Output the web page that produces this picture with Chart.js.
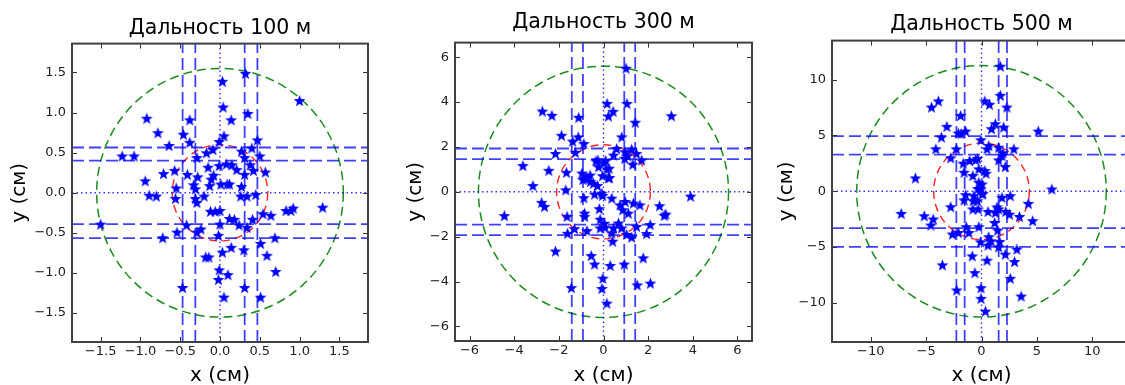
<!DOCTYPE html>
<html>
<head>
<meta charset="utf-8">
<script src="https://cdn.jsdelivr.net/npm/chart.js@4.4.0/dist/chart.umd.min.js"></script>
<style>
  html, body { margin: 0; padding: 0; background: #fff; }
  body { width: 1125px; height: 385px; overflow: hidden; position: relative; }
  canvas { position: absolute; top: 0; }
</style>
</head>
<body>
<canvas id="c100" style="left:0px"></canvas>
<canvas id="c300" style="left:395px"></canvas>
<canvas id="c500" style="left:775px"></canvas>
<script>
// Попадания (см) для каждой дальности
const x100 = [-1.50,-1.23,-1.08,-0.92,-0.78,-0.64,-0.94,-0.89,-0.80,-0.71,-0.57,-0.55,-0.56,-0.46,-0.38,-0.38,-0.41,-0.33,-0.31,-0.31,
  -0.29,-0.28,-0.29,-0.20,-0.17,-0.09,-0.15,-0.08,-0.11,-0.13,-0.01,-0.01,0.05,0.04,0.03,0.32,0.35,0.14,1.00,0.47,
  0.40,0.27,0.31,0.50,0.38,0.42,0.57,0.08,0.15,0.21,0.31,0.01,0.09,0.12,0.27,0.26,0.34,0.45,-0.12,-0.06,
  0.00,0.12,0.18,0.24,0.34,0.41,0.54,0.64,0.83,0.89,0.92,1.29,0.00,-0.02,-0.24,-0.29,-0.42,-0.54,-0.72,0.03,
  0.14,0.30,0.51,0.69,0.59,-0.18,-0.14,0.70,-0.01,-0.02,0.10,-0.47,0.31,0.05,0.51];
const y100 = [-0.39,0.46,0.46,0.93,0.75,0.59,0.15,-0.03,-0.04,0.24,0.28,0.06,-0.07,0.73,0.91,0.63,0.23,0.10,0.05,-0.07,
  -0.12,0.20,0.44,-0.04,0.50,0.54,0.32,0.22,0.17,0.09,0.34,0.64,0.71,1.07,1.39,1.49,0.99,0.91,1.15,0.66,
  0.56,0.52,0.44,0.46,0.35,0.28,0.26,0.36,0.35,0.29,0.23,0.11,0.11,0.11,0.08,-0.04,-0.04,-0.02,-0.23,-0.23,
  -0.22,-0.32,-0.33,-0.40,-0.43,-0.33,-0.26,-0.28,-0.22,-0.22,-0.19,-0.18,-0.39,-0.53,-0.45,-0.49,-0.40,-0.49,-0.56,-0.74,
  -0.68,-0.71,-0.63,-0.56,-0.78,-0.80,-0.80,-0.98,-0.96,-1.08,-1.02,-1.18,-1.18,-1.30,-1.30];

const x300 = [1.01,0.16,1.05,0.43,0.22,1.42,3.04,-2.74,-2.31,-1.11,-1.88,-1.13,-1.38,-0.88,0.82,-2.15,-1.26,-3.61,-2.45,-1.66,
  -3.16,-1.69,-2.77,-2.64,-4.44,3.90,2.51,2.72,2.79,2.09,1.93,1.78,2.10,1.51,0.93,0.30,-0.40,-0.55,0.41,-0.03,
  -0.07,0.15,-1.44,-2.15,-1.61,-1.63,-1.30,-0.74,-0.85,-0.85,-0.88,-0.96,-0.92,-0.76,-0.58,-0.34,-0.22,0.01,0.15,0.27,
  -0.45,-0.27,-0.04,-0.40,-0.07,-0.04,0.37,-0.19,-0.15,0.04,-0.15,0.07,0.37,0.45,0.67,0.81,1.04,1.26,1.48,0.74,
  0.97,0.86,1.11,1.34,1.63,0.45,0.59,0.95,1.08,1.26,1.48,1.71,1.31,0.96,0.25,-0.85,-0.25,0.22,-0.60,0.10];
const y300 = [5.51,3.94,3.94,3.59,3.38,3.10,3.39,3.60,3.41,3.32,2.52,2.45,2.26,2.15,2.45,1.71,1.76,1.17,0.96,0.87,
  0.28,0.09,-0.47,-0.65,-1.06,-0.19,-0.62,-1.05,-0.99,-1.46,-1.86,-2.94,-4.07,-4.15,-3.22,-3.28,-3.22,-2.84,-2.20,-3.85,
  -4.31,-4.96,-4.27,-2.64,-1.85,-1.09,-1.64,-1.73,-0.95,-1.09,-0.26,0.84,0.55,0.65,0.46,1.38,1.12,1.30,1.02,0.63,
  0.38,0.28,0.72,-0.10,-0.06,-0.16,-0.28,-0.75,-1.22,-1.40,-1.61,-1.58,-1.83,-1.61,-1.39,-1.61,-1.90,-2.02,-1.54,-0.58,
  -0.43,-0.80,-0.95,-0.50,-0.58,1.64,1.93,1.49,1.61,1.90,1.71,1.42,1.23,1.79,1.05,0.60,1.42,0.63,0.75,1.40];

const x500 = [1.70,1.70,0.30,0.72,2.29,-3.89,-4.51,-1.88,-3.13,-3.62,-2.09,-1.43,-1.85,1.25,0.90,2.00,5.13,-0.06,-4.12,-2.27,
  -2.78,-5.97,0.50,0.66,1.55,2.92,1.85,1.55,2.15,1.94,-1.65,-1.07,-0.54,-0.36,-1.58,-0.78,-0.24,0.30,0.41,-0.24,
  -0.09,-0.33,0.05,0.12,-1.43,-0.69,1.85,2.60,-1.58,-0.75,0.06,-0.30,-0.78,-2.78,0.59,1.25,1.55,2.20,2.53,3.43,
  4.23,4.62,-7.25,-5.17,-4.36,-4.57,-2.63,-2.09,-1.38,-1.14,-0.24,1.19,1.46,-0.09,0.65,0.59,0.86,1.64,1.55,2.15,
  3.19,2.98,2.60,3.58,-0.84,0.50,-0.60,-3.53,-2.24,-0.04,-0.04,0.36,6.35,-0.36,1.40];
const y500 = [11.21,8.60,8.10,7.80,7.55,8.10,7.55,6.80,5.82,4.86,5.22,5.40,5.18,6.06,5.61,5.76,5.40,4.62,3.81,3.81,
  3.00,1.20,3.81,4.10,3.95,3.81,3.21,2.82,2.22,3.45,2.52,2.76,2.82,2.95,1.71,1.41,2.01,1.86,1.62,0.81,
  0.22,0.25,0.66,-0.18,-0.30,-0.39,-0.54,-0.39,-0.77,-0.84,-0.24,-1.58,-1.58,-1.38,-1.80,-1.89,-1.58,-1.80,-2.04,-2.25,
  -1.08,-2.63,-1.98,-2.19,-2.48,-3.02,-3.83,-3.69,-3.17,-3.69,-3.17,-2.79,-3.47,-4.52,-4.07,-4.82,-4.43,-4.50,-4.97,-5.63,
  -5.18,-6.29,-7.79,-9.38,-5.78,-6.17,-7.28,-6.59,-8.84,-8.63,-9.59,-10.73,0.21,-0.84,-1.40];

// Пределы осей и деления
const lim100 = 1.86, lim300 = 6.65, lim500 = 13.5;
const ticks100 = [-1.5, -1.0, -0.5, 0.0, 0.5, 1.0, 1.5];
const ticks300 = [-6, -4, -2, 0, 2, 4, 6];
const ticks500 = [-10, -5, 0, 5, 10];

// Окружности (радиусы) и линии рассеивания
const outerR = [1.55, 5.6, 11.27];
const innerR = [0.6, 2.1, 4.32];
const vLines100 = [-0.47, -0.31, 0.31, 0.47];
const hLines100 = [-0.565, -0.39, 0.40, 0.565];
const vLines300 = [-1.42, -0.92, 0.93, 1.42];
const hLines300 = [-1.93, -1.46, 1.46, 1.93];
const vLines500 = [-2.27, -1.52, 1.55, 2.30];
const hLines500 = [-4.97, -3.29, 3.29, 4.94];

const FONT = 'DejaVu Sans';

// звёздочка как у matplotlib
function makeStar(size, color) {
  const c = document.createElement('canvas');
  c.width = c.height = size;
  const g = c.getContext('2d');
  const R = size / 2 - 0.3, r = R * 0.42;
  g.beginPath();
  for (let i = 0; i < 10; i++) {
    const a = -Math.PI / 2 + i * Math.PI / 5;
    const rad = i % 2 ? r : R;
    g.lineTo(size / 2 + rad * Math.cos(a), size / 2 + 0.7 + rad * Math.sin(a));
  }
  g.closePath();
  g.fillStyle = color;
  g.fill();
  return c;
}
const star = makeStar(13, '#0000ff');

function minusFmt(v, dec) {
  const s = Math.abs(v).toFixed(dec);
  return v < 0 ? '\u2212' + s : s;
}

// рамка, внутренние засечки и окружности
const framePlugin = {
  id: 'frame',
  beforeDatasetsDraw(chart, args, opts) {
    const {ctx, chartArea: a, scales: {x, y}} = chart;
    ctx.save();
    ctx.beginPath();
    ctx.rect(a.left, a.top, a.right - a.left, a.bottom - a.top);
    ctx.clip();
    opts.circles.forEach(c => {
      const cx = x.getPixelForValue(0), cy = y.getPixelForValue(0);
      const rx = Math.abs(x.getPixelForValue(c.r) - cx);
      const ry = Math.abs(y.getPixelForValue(c.r) - cy);
      ctx.beginPath();
      ctx.setLineDash(c.dash);
      ctx.strokeStyle = c.color;
      ctx.lineWidth = c.width;
      ctx.ellipse(cx, cy, rx, ry, 0, 0, 2 * Math.PI);
      ctx.stroke();
    });
    ctx.restore();
  },
  afterDraw(chart) {
    const {ctx, chartArea: a, scales: {x, y}} = chart;
    ctx.save();
    ctx.strokeStyle = '#333';
    ctx.lineWidth = 1;
    ctx.beginPath();
    x.ticks.forEach(t => {
      const px = Math.round(x.getPixelForValue(t.value)) + 0.5;
      ctx.moveTo(px, a.bottom); ctx.lineTo(px, a.bottom - 5);
      ctx.moveTo(px, a.top); ctx.lineTo(px, a.top + 5);
    });
    y.ticks.forEach(t => {
      const py = Math.round(y.getPixelForValue(t.value)) + 0.5;
      ctx.moveTo(a.left, py); ctx.lineTo(a.left + 5, py);
      ctx.moveTo(a.right, py); ctx.lineTo(a.right - 5, py);
    });
    ctx.stroke();
    ctx.lineWidth = 2;
    ctx.strokeStyle = '#404040';
    ctx.strokeRect(a.left, a.top, a.right - a.left, a.bottom - a.top);
    ctx.restore();
  }
};

function lineSet(points, color, dash, width) {
  return {
    data: points, showLine: true, pointRadius: 0, borderColor: color,
    borderDash: dash, borderWidth: width, fill: false
  };
}

function makeChart(id, p) {
  const canvas = document.getElementById(id);
  canvas.width = p.width;
  canvas.height = 390;
  const lim = p.lim;
  const sets = [{
    data: p.xs.map((v, i) => ({x: v, y: p.ys[i]})),
    pointStyle: star, pointRadius: 7, backgroundColor: '#0000ff', borderColor: '#0000ff'
  }];
  p.vLines.forEach(v => sets.push(lineSet([{x: v, y: -lim}, {x: v, y: lim}], 'rgba(0,0,255,0.75)', [12, 5], 1.8)));
  p.hLines.forEach(v => sets.push(lineSet([{x: -lim, y: v}, {x: lim, y: v}], 'rgba(0,0,255,0.75)', [12, 5], 1.8)));
  sets.push(lineSet([{x: 0, y: -lim}, {x: 0, y: lim}], 'rgba(0,0,255,0.8)', [1.5, 3], 1.4));
  sets.push(lineSet([{x: -lim, y: 0}, {x: lim, y: 0}], 'rgba(0,0,255,0.8)', [1.5, 3], 1.4));

  const tickFont = {family: FONT, size: 13};
  new Chart(canvas, {
    type: 'scatter',
    data: {datasets: sets},
    plugins: [framePlugin],
    options: {
      responsive: false,
      animation: false,
      events: [],
      layout: {padding: {left: 0, right: p.padRight, top: 0, bottom: 0}},
      plugins: {
        legend: {display: false},
        tooltip: {enabled: false},
        title: {
          display: true, text: p.title, color: '#000', fullSize: false,
          font: {family: FONT, size: 20.5, weight: 'normal'},
          padding: {top: p.titleTop, bottom: p.titleBottom}
        },
        frame: {
          circles: [
            {r: p.outer, color: '#1a8c1a', dash: [9, 5], width: 1.5},
            {r: p.inner, color: '#ff2222', dash: [8, 5], width: 1.4}
          ]
        }
      },
      scales: {
        x: {
          type: 'linear', min: -lim, max: lim,
          grid: {display: false, drawTicks: false},
          border: {display: false},
          afterBuildTicks: s => { s.ticks = p.ticks.map(v => ({value: v})); },
          afterFit: s => { s.height = 390 - p.bottom; s.paddingLeft = 0; s.paddingRight = 0; },
          ticks: {font: tickFont, color: '#222', padding: 2, maxRotation: 0,
            callback: v => minusFmt(v, p.dec)},
          title: {display: true, text: 'x (см)', color: '#000',
            font: {family: FONT, size: 20}, padding: {top: 0, bottom: 2}}
        },
        y: {
          type: 'linear', min: -lim, max: lim,
          grid: {display: false, drawTicks: false},
          border: {display: false},
          afterBuildTicks: s => { s.ticks = p.ticks.map(v => ({value: v})); },
          afterFit: s => { s.width = p.yWidth; s.paddingTop = 0; s.paddingBottom = 0; },
          ticks: {font: tickFont, color: '#222', padding: 6,
            callback: v => minusFmt(v, p.dec)},
          title: {display: true, text: 'y (см)', color: '#000',
            font: {family: FONT, size: 20}, padding: {top: p.yTitlePad, bottom: 0}}
        }
      }
    }
  });
}

makeChart('c100', {
  title: 'Дальность 100 м', xs: x100, ys: y100, lim: lim100, ticks: ticks100, dec: 1,
  outer: outerR[0], inner: innerR[0], vLines: vLines100, hLines: hLines100,
  width: 376, padRight: 5, yWidth: 72, bottom: 342, titleTop: 16, titleBottom: 3, yTitlePad: 8
});
makeChart('c300', {
  title: 'Дальность 300 м', xs: x300, ys: y300, lim: lim300, ticks: ticks300, dec: 0,
  outer: outerR[1], inner: innerR[1], vLines: vLines300, hLines: hLines300,
  width: 365, padRight: 5, yWidth: 60, bottom: 341, titleTop: 10, titleBottom: 8, yTitlePad: 9
});
makeChart('c500', {
  title: 'Дальность 500 м', xs: x500, ys: y500, lim: lim500, ticks: ticks500, dec: 0,
  outer: outerR[2], inner: innerR[2], vLines: vLines500, hLines: hLines500,
  width: 364, padRight: 5, yWidth: 57, bottom: 342, titleTop: 12, titleBottom: 4, yTitlePad: 0
});
</script>
</body>
</html>
